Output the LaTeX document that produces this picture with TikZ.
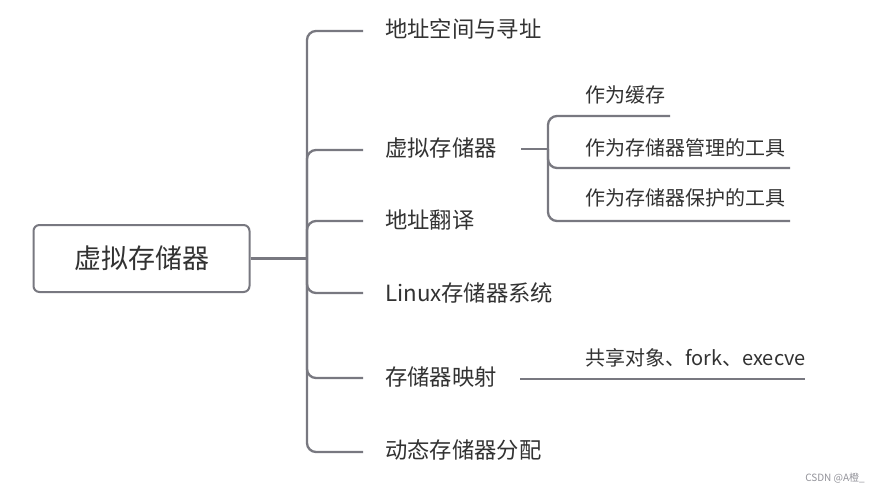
\documentclass[tikz,border=0pt]{standalone}
\usepackage{fontspec}
\setmainfont{Noto Sans CJK SC}
\definecolor{linec}{RGB}{120,120,128}
\definecolor{txt}{RGB}{50,50,50}
\begin{document}
\begin{tikzpicture}[x=1pt,y=-1pt,
  conn/.style={draw=linec, line width=2.3pt, rounded corners=9pt},
  lvone/.style={anchor=west, inner sep=0pt, text=txt, font=\fontsize{22.3}{23}\selectfont},
  lvtwo/.style={anchor=west, inner sep=0pt, text=txt, font=\fontsize{20}{21}\selectfont},
  rootbox/.style={draw=linec, line width=2pt, rounded corners=6pt, minimum width=216pt, minimum height=67pt, inner sep=0pt, text=txt, font=\fontsize{27}{28}\selectfont}]
\useasboundingbox (0,0) rectangle (880,493);
\fill[white] (0,0) rectangle (880,493);
% root
\node[rootbox] (root) at (141.5,258.5) {虚拟存储器};
\coordinate (j) at (307,258.5);
\draw[conn] (root.east) -- (j);
% first level
\node[lvone] (n1) at (385,29) {地址空间与寻址};
\node[lvone] (n2) at (385,148) {虚拟存储器};
\node[lvone] (n3) at (385,220) {地址翻译};
\node[lvone] (n4) at (385,292.5) {Linux存储器系统};
\node[lvone] (n5) at (385,377) {存储器映射};
\node[lvone] (n6) at (385,450) {动态存储器分配};
\coordinate (e1) at (363,31);
\coordinate (e2) at (363,150);
\coordinate (e3) at (363,221);
\coordinate (e4) at (363,293);
\coordinate (e5) at (363,378);
\coordinate (e6) at (363,452);
\foreach \e in {e1,e2,e3,e4,e5,e6}{\draw[conn] (j) |- (\e);}
% second level of 虚拟存储器
\coordinate (s0) at (521,149);
\coordinate (s1) at (548,149);
\draw[conn] (s0) -- (s1);
\node[lvtwo] (c1) at (585,95) {作为缓存};
\node[lvtwo] (c2) at (585,148) {作为存储器管理的工具};
\node[lvtwo] (c3) at (585,198) {作为存储器保护的工具};
\coordinate (u1) at (670,116);
\coordinate (u2) at (790,168);
\coordinate (u3) at (790,221);
\foreach \u in {u1,u2,u3}{\draw[conn] (s1) |- (\u);}
% second level of 存储器映射
\node[lvtwo] (m1) at (585,358) {共享对象、fork、execve};
\coordinate (m0) at (520,379);
\coordinate (mz) at (805,379);
\draw[conn] (m0) -- (mz);
% watermark
\node[anchor=east, inner sep=0pt, text=linec!80, font=\fontsize{10}{10}\selectfont] (wm) at (865,478) {CSDN @A橙\_};
\end{tikzpicture}
\end{document}
